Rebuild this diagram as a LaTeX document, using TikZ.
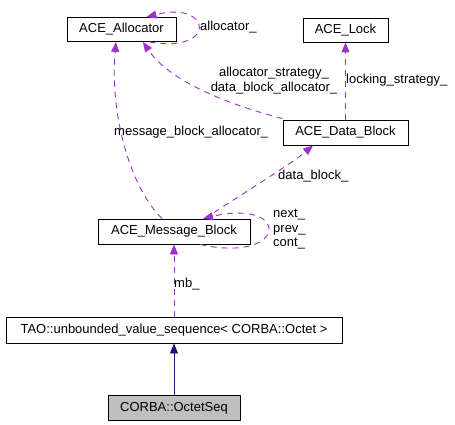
\documentclass[tikz,border=0pt]{standalone}
\usepackage{fontspec}
\setmainfont{Liberation Sans}
\usetikzlibrary{positioning, calc, arrows.meta}
\definecolor{edgepurple}{HTML}{9A32CD}
\definecolor{edgenavy}{HTML}{191970}

\begin{document}
\begin{tikzpicture}[x=1pt, y=-1pt,
	every node/.style={font=\fontsize{13}{14.5}\selectfont, inner sep=0pt},
	classbox/.style={draw, line width=0.9pt, minimum height=24pt},
	usage/.style={edgepurple, line width=0.9pt, dash pattern=on 6pt off 5pt, -{Triangle[length=10pt, width=8pt]}},
	inherit/.style={edgenavy, line width=0.9pt, -{Triangle[length=10pt, width=8pt]}},
	lbl/.style={anchor=west}]
	\useasboundingbox (0, 0) rectangle (455, 425);

	\node[classbox, minimum width=109pt] (Alloc) at (121.5, 29.5) {ACE\_Allocator};
	\node[classbox, minimum width=85pt] (Lock) at (345.5, 30) {ACE\_Lock};
	\node[classbox, minimum width=125pt, minimum height=25pt] (DataBlock) at (345.5, 132.5) {ACE\_Data\_Block};
	\node[classbox, minimum width=152pt, minimum height=25pt] (MsgBlock) at (174, 231.5) {ACE\_Message\_Block};
	\node[classbox, minimum width=336pt, minimum height=26pt] (Seq) at (174, 330) {TAO::unbounded\_value\_sequence< CORBA::Octet >};
	\node[classbox, minimum width=132pt, minimum height=25pt, fill=black!25] (Octet) at (174, 408) {CORBA::OctetSeq};

	\coordinate (A1) at ($(Alloc.south) + (28, 0)$);
	\coordinate (A2) at ($(Alloc.north) + (25, 0)$);
	\draw[usage] (A1) .. controls (218, 54) and (212, 0) .. (A2);
	\node[lbl] (lAlloc) at (200, 27) {allocator\_};

	\draw[usage] ($(DataBlock.north west) + (0, -1)$) .. controls (230, 105) and (170, 82) .. ($(Alloc.south) + (21.5, 0)$);
	\node[align=center] (lStrat) at (274, 80.5) {allocator\_strategy\_\\data\_block\_allocator\_};

	\draw[usage] (DataBlock.north -| Lock.south) -- (Lock.south);
	\node[lbl] (lLock) at (346, 80) {locking\_strategy\_};

	\draw[usage] ($(MsgBlock.north) + (-12, 0)$) .. controls (128, 185) and (110, 110) .. ($(Alloc.south) + (-5.5, 0)$);
	\node[lbl] (lMsgAlloc) at (114, 132) {message\_block\_allocator\_};

	\draw[usage] ($(MsgBlock.north) + (31, 0)$) .. controls (240, 195) and (290, 165) .. ($(DataBlock.south) + (-32.5, 0)$);
	\node[lbl] (lData) at (278, 176) {data\_block\_};

	\coordinate (M1) at ($(MsgBlock.south) + (26, 0)$);
	\coordinate (M2) at ($(MsgBlock.north) + (29, 0)$);
	\draw[usage] (M1) .. controls (288, 264) and (292, 198) .. (M2);
	\node[lbl, align=left] (lNext) at (273, 229.5) {next\_\\prev\_\\cont\_};

	\draw[usage] (Seq.north) -- (MsgBlock.south);
	\node[lbl] (lMb) at (174, 284) {mb\_};

	\draw[inherit] (Octet.north) -- (Seq.south);
\end{tikzpicture}
\end{document}
